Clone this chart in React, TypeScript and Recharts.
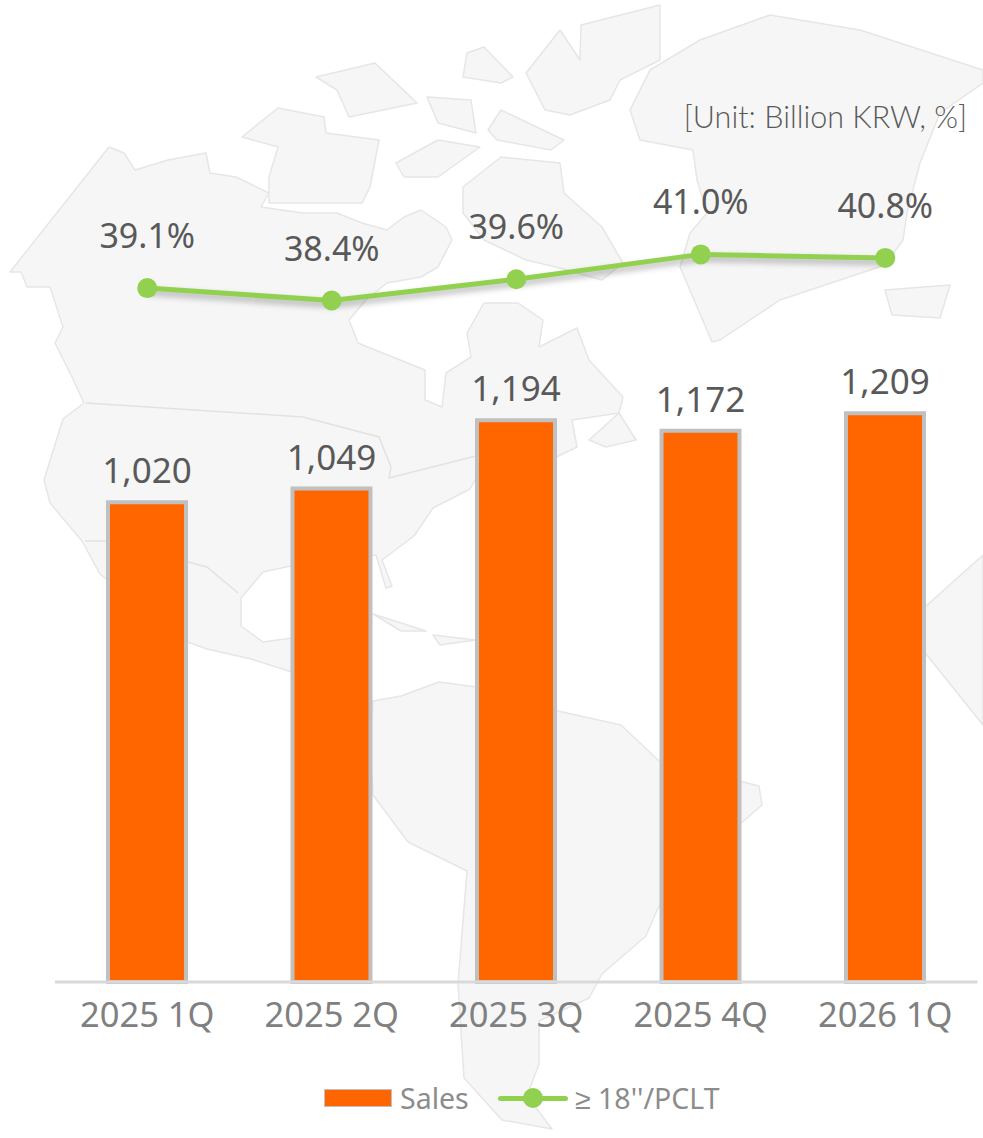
import { ComposedChart, Bar, Line, XAxis, YAxis, Legend, LabelList } from "recharts";

const quarters = ["2025 1Q", "2025 2Q", "2025 3Q", "2025 4Q", "2026 1Q"];
const sales = [1020, 1049, 1194, 1172, 1209];
const pclt = [39.1, 38.4, 39.6, 41.0, 40.8];

const data = quarters.map((q, i) => ({ quarter: q, sales: sales[i], pclt: pclt[i] }));

const ORANGE = "#ff6600";
const GREEN = "#92d050";
const FONT = "'Noto Sans', sans-serif";

// rough world map behind the chart, decoration only
const land = [
  // north and central america
  "M109 147 L124 153 L135 170 L168 160 L206 153 L210 173 L236 177 L269 193 L261 207 L303 213 L337 213 L362 223 L387 230 L404 217 L421 210 L446 227 L452 240 L438 267 L421 277 L387 283 L366 300 L349 320 L358 343 L400 360 L425 370 L425 400 L442 407 L446 373 L471 357 L467 333 L484 303 L518 303 L543 320 L539 347 L577 328 L589 360 L623 397 L619 413 L572 420 L577 447 L552 459 L489 456 L470 489 L433 508 L414 536 L382 560 L392 586 L386 588 L376 555 L295 565 L263 572 L241 598 L241 626 L263 642 L292 638 L295 673 L251 659 L207 649 L182 640 L100 574 L82 541 L50 503 L44 480 L63 419 L84 403 L72 377 L55 343 L63 327 L50 287 L27 287 L21 272 L10 272 Z",
  // arctic islands
  "M463 187 L501 157 L560 163 L564 193 L602 227 L623 263 L602 280 L556 267 L526 260 L484 240 L463 213 Z",
  "M242 137 L278 108 L324 117 L326 133 L379 140 L370 187 L362 203 L269 203 L269 177 L278 147 Z",
  "M316 77 L375 63 L417 103 L349 117 L337 90 Z",
  "M396 163 L438 140 L480 147 L438 177 L404 177 Z",
  "M427 97 L471 100 L476 133 L438 123 Z",
  "M488 130 L501 110 L564 140 L551 150 L497 140 Z",
  "M467 53 L484 47 L513 77 L501 83 L463 77 Z",
  "M526 73 L560 30 L580 60 L581 25 L660 5 L660 60 L620 80 L610 100 L570 115 L545 110 Z",
  // greenland and iceland
  "M630 110 L650 70 L700 40 L770 15 L860 30 L983 70 L983 83 L940 113 L920 163 L907 213 L903 240 L885 265 L780 300 L720 340 L712 342 L680 267 L690 233 L707 213 L697 180 L693 150 L640 140 Z",
  "M885 290 L950 285 L940 318 L892 315 Z",
  // newfoundland, caribbean
  "M589 440 L619 413 L636 440 L606 447 Z",
  "M373 614 L426 631 L401 631 Z",
  "M433 635 L476 640 L440 645 Z",
  // south america
  "M373 701 L401 696 L439 682 L476 687 L558 711 L621 725 L658 760 L759 786 L762 805 L740 824 L658 908 L646 936 L602 974 L589 998 L539 1021 L539 1064 L527 1096 L552 1129 L502 1120 L464 1078 L458 984 L467 871 L408 842 L373 795 L370 739 Z",
  // africa edge
  "M983 555 L925 607 L922 649 L983 725 Z",
];

const borders = [
  "M86 403 L303 417 L379 437 L391 467 L389 478 L476 456",
  "M85 541 L107 541 L207 567 L238 593",
];

function MapBackdrop() {
  return (
    <svg width={983} height={1138} style={{ position: "absolute", left: 0, top: 0 }}>
      {land.map((d, i) => (
        <path key={i} d={d} fill="#f6f6f6" stroke="#e6e6e6" strokeWidth={1.5} strokeLinejoin="round" />
      ))}
      {borders.map((d, i) => (
        <path key={i} d={d} fill="none" stroke="#e2e2e2" strokeWidth={1.5} />
      ))}
    </svg>
  );
}

function ChartLegend() {
  return (
    <div style={{ position: "relative", width: 983, height: 40, fontFamily: FONT, fontSize: 28.5, color: "#8c8c8c" }}>
      <span style={{ position: "absolute", left: 324, top: 10, width: 68, height: 18, boxSizing: "border-box", background: ORANGE, border: "1px solid #c0c0c0" }} />
      <span style={{ position: "absolute", left: 400, top: 0, lineHeight: "38px" }}>Sales</span>
      <span style={{ position: "absolute", left: 498, top: 17, width: 70, height: 5, borderRadius: 3, background: GREEN }} />
      <span style={{ position: "absolute", left: 523, top: 9, width: 20, height: 20, borderRadius: 10, background: GREEN }} />
      <span style={{ position: "absolute", left: 575, top: 0, lineHeight: "38px" }}>≥ 18''/PCLT</span>
    </div>
  );
}

export default function App() {
  return (
    <div style={{ position: "absolute", left: 0, top: 0, width: 983, height: 1138, overflow: "hidden", background: "#fff" }}>
      <style>{`.pclt-line { filter: drop-shadow(0 4px 3px rgba(0,0,0,0.3)); }`}</style>
      <MapBackdrop />
      <div style={{ position: "absolute", right: 16, top: 97, fontFamily: "Lato, sans-serif", fontWeight: 300, fontSize: 30.5, color: "#595959", lineHeight: "38px" }}>
        [Unit: Billion KRW, %]
      </div>
      <ComposedChart
        width={983}
        height={1138}
        data={data}
        margin={{ top: 100, right: 5.5, bottom: 56, left: 55 }}
        style={{ position: "absolute", left: 0, top: 0 }}
      >
        <XAxis
          dataKey="quarter"
          height={60}
          tickLine={false}
          axisLine={{ stroke: "#d9d9d9", strokeWidth: 3 }}
          tick={{ fill: "#808080", fontSize: 34.5, fontFamily: FONT }}
          tickMargin={15}
          interval={0}
        />
        <YAxis yAxisId="sales" hide domain={[0, 1875]} />
        <YAxis yAxisId="pclt" hide orientation="right" domain={[0, 49.7]} />
        <Legend
          verticalAlign="bottom"
          content={<ChartLegend />}
          wrapperStyle={{ left: 0, bottom: 19, width: 983 }}
        />
        <Bar
          yAxisId="sales"
          dataKey="sales"
          name="Sales"
          barSize={78}
          fill={ORANGE}
          stroke="#c0c0c0"
          strokeWidth={4}
          isAnimationActive={false}
        >
          <LabelList
            dataKey="sales"
            position="top"
            offset={19}
            formatter={(v: number) => v.toLocaleString("en-US")}
            style={{ fill: "#595959", fontSize: 35, fontFamily: FONT }}
          />
        </Bar>
        <Line
          yAxisId="pclt"
          dataKey="pclt"
          name={"≥ 18''/PCLT"}
          className="pclt-line"
          stroke={GREEN}
          strokeWidth={5}
          dot={{ r: 10, fill: GREEN, stroke: GREEN, strokeWidth: 0 }}
          isAnimationActive={false}
        >
          <LabelList
            dataKey="pclt"
            position="top"
            offset={40}
            formatter={(v: number) => `${v.toFixed(1)}%`}
            style={{ fill: "#595959", fontSize: 34, fontFamily: FONT }}
          />
        </Line>
      </ComposedChart>
    </div>
  );
}
